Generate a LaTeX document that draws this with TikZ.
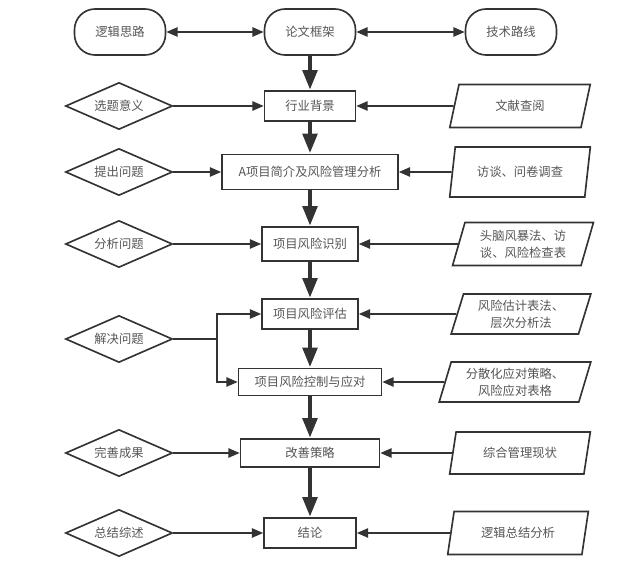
\documentclass[tikz,border=0pt]{standalone}
\usepackage{fontspec}
\setmainfont{Noto Sans CJK SC}
\usetikzlibrary{shapes.geometric,arrows.meta}
\definecolor{linegray}{HTML}{333333}
\definecolor{textgray}{HTML}{555555}
\def\h{0.03}
\def\punkt#1#2{({(#1)*\h},{-(#2)*\h})}
\tikzset{
  wd/.style={minimum width={(#1)*\h*1cm}},
  ht/.style={minimum height={(#1)*\h*1cm}},
  term/.style={draw=linegray, line width=1.4pt, rounded corners=0.62cm, wd=91, ht=46},
  stage/.style={draw=linegray, line width=1.4pt, ht=30},
  ask/.style={diamond, draw=linegray, line width=1.4pt, aspect=2.28, wd=107, ht=47},
  tool/.style={trapezium, trapezium left angle=72, trapezium right angle=108,
    trapezium stretches=true, draw=linegray, line width=1.4pt, wd=141, ht=43, align=center},
  flow/.style={->, draw=linegray, line width=4.2pt, >={Triangle[length=6mm,width=4.2mm]}},
  feed/.style={->, draw=linegray, line width=1.4pt}
}
\begin{document}
\begin{tikzpicture}[>={Triangle[length=3.4mm,width=2.8mm]},
  every node/.style={font=\fontsize{10.5}{14.5}\selectfont, text=textgray, inner sep=0pt}]
\useasboundingbox \punkt{0}{0} rectangle \punkt{644}{571};

% top row
\node[term] (logic) at \punkt{120}{32} {逻辑思路};
\node[term] (frame) at \punkt{310}{32} {论文框架};
\node[term] (route) at \punkt{511}{32} {技术路线};

% main stages
\node[stage, wd=91] (bg) at \punkt{310}{106} {行业背景};
\node[stage, wd=176, ht=35] (intro) at \punkt{310}{172} {A项目简介及风险管理分析};
\node[stage, wd=96, ht=34] (ident) at \punkt{310}{244} {项目风险识别};
\node[stage, wd=96] (eval) at \punkt{310}{314} {项目风险评估};
\node[stage, wd=143, ht=27] (ctrl) at \punkt{310}{382} {项目风险控制与应对};
\node[stage, wd=139, ht=28] (impr) at \punkt{310}{453} {改善策略};
\node[stage, wd=92] (concl) at \punkt{310}{533} {结论};

% questions
\node[ask] (q1) at \punkt{119}{106} {选题意义};
\node[ask] (q2) at \punkt{119}{172} {提出问题};
\node[ask] (q3) at \punkt{119}{244} {分析问题};
\node[ask] (q4) at \punkt{119}{339} {解决问题};
\node[ask] (q5) at \punkt{119}{453} {完善成果};
\node[ask] (q6) at \punkt{119}{533} {总结综述};

% methods
\node[tool] (m1) at \punkt{520}{106} {文献查阅};
\node[tool, ht=50] (m2) at \punkt{520}{172} {访谈、问卷调查};
\node[tool] (m3) at \punkt{523}{244} {头脑风暴法、访\\谈、风险检查表};
\node[tool, ht=40] (m4) at \punkt{521}{314} {风险估计表法、\\层次分析法};
\node[tool, wd=152, ht=40] (m5) at \punkt{515}{382} {分散化应对策略、\\风险应对表格};
\node[tool, ht=42] (m6) at \punkt{520}{453} {综合管理现状};
\node[tool] (m7) at \punkt{518}{533} {逻辑总结分析};

\path \punkt{217}{339} coordinate (split);

\draw[feed, <->] (logic) -- (frame);
\draw[feed, <->] (frame) -- (route);

\foreach \a/\b in {frame/bg, bg/intro, intro/ident, ident/eval, eval/ctrl, ctrl/impr, impr/concl}
  \draw[flow] (\a) -- (\b);

\foreach \q/\b in {q1/bg, q2/intro, q3/ident, q5/impr, q6/concl}
  \draw[feed] (\q) -- (\b);

\foreach \m/\b in {m1/bg, m2/intro, m3/ident, m4/eval, m5/ctrl, m6/impr, m7/concl}
  \draw[feed] (\m) -- (\b);

\draw[draw=linegray, line width=1.4pt] (q4) -- (split);
\draw[feed] (split) |- (eval);
\draw[feed] (split) |- (ctrl);

\end{tikzpicture}
\end{document}
